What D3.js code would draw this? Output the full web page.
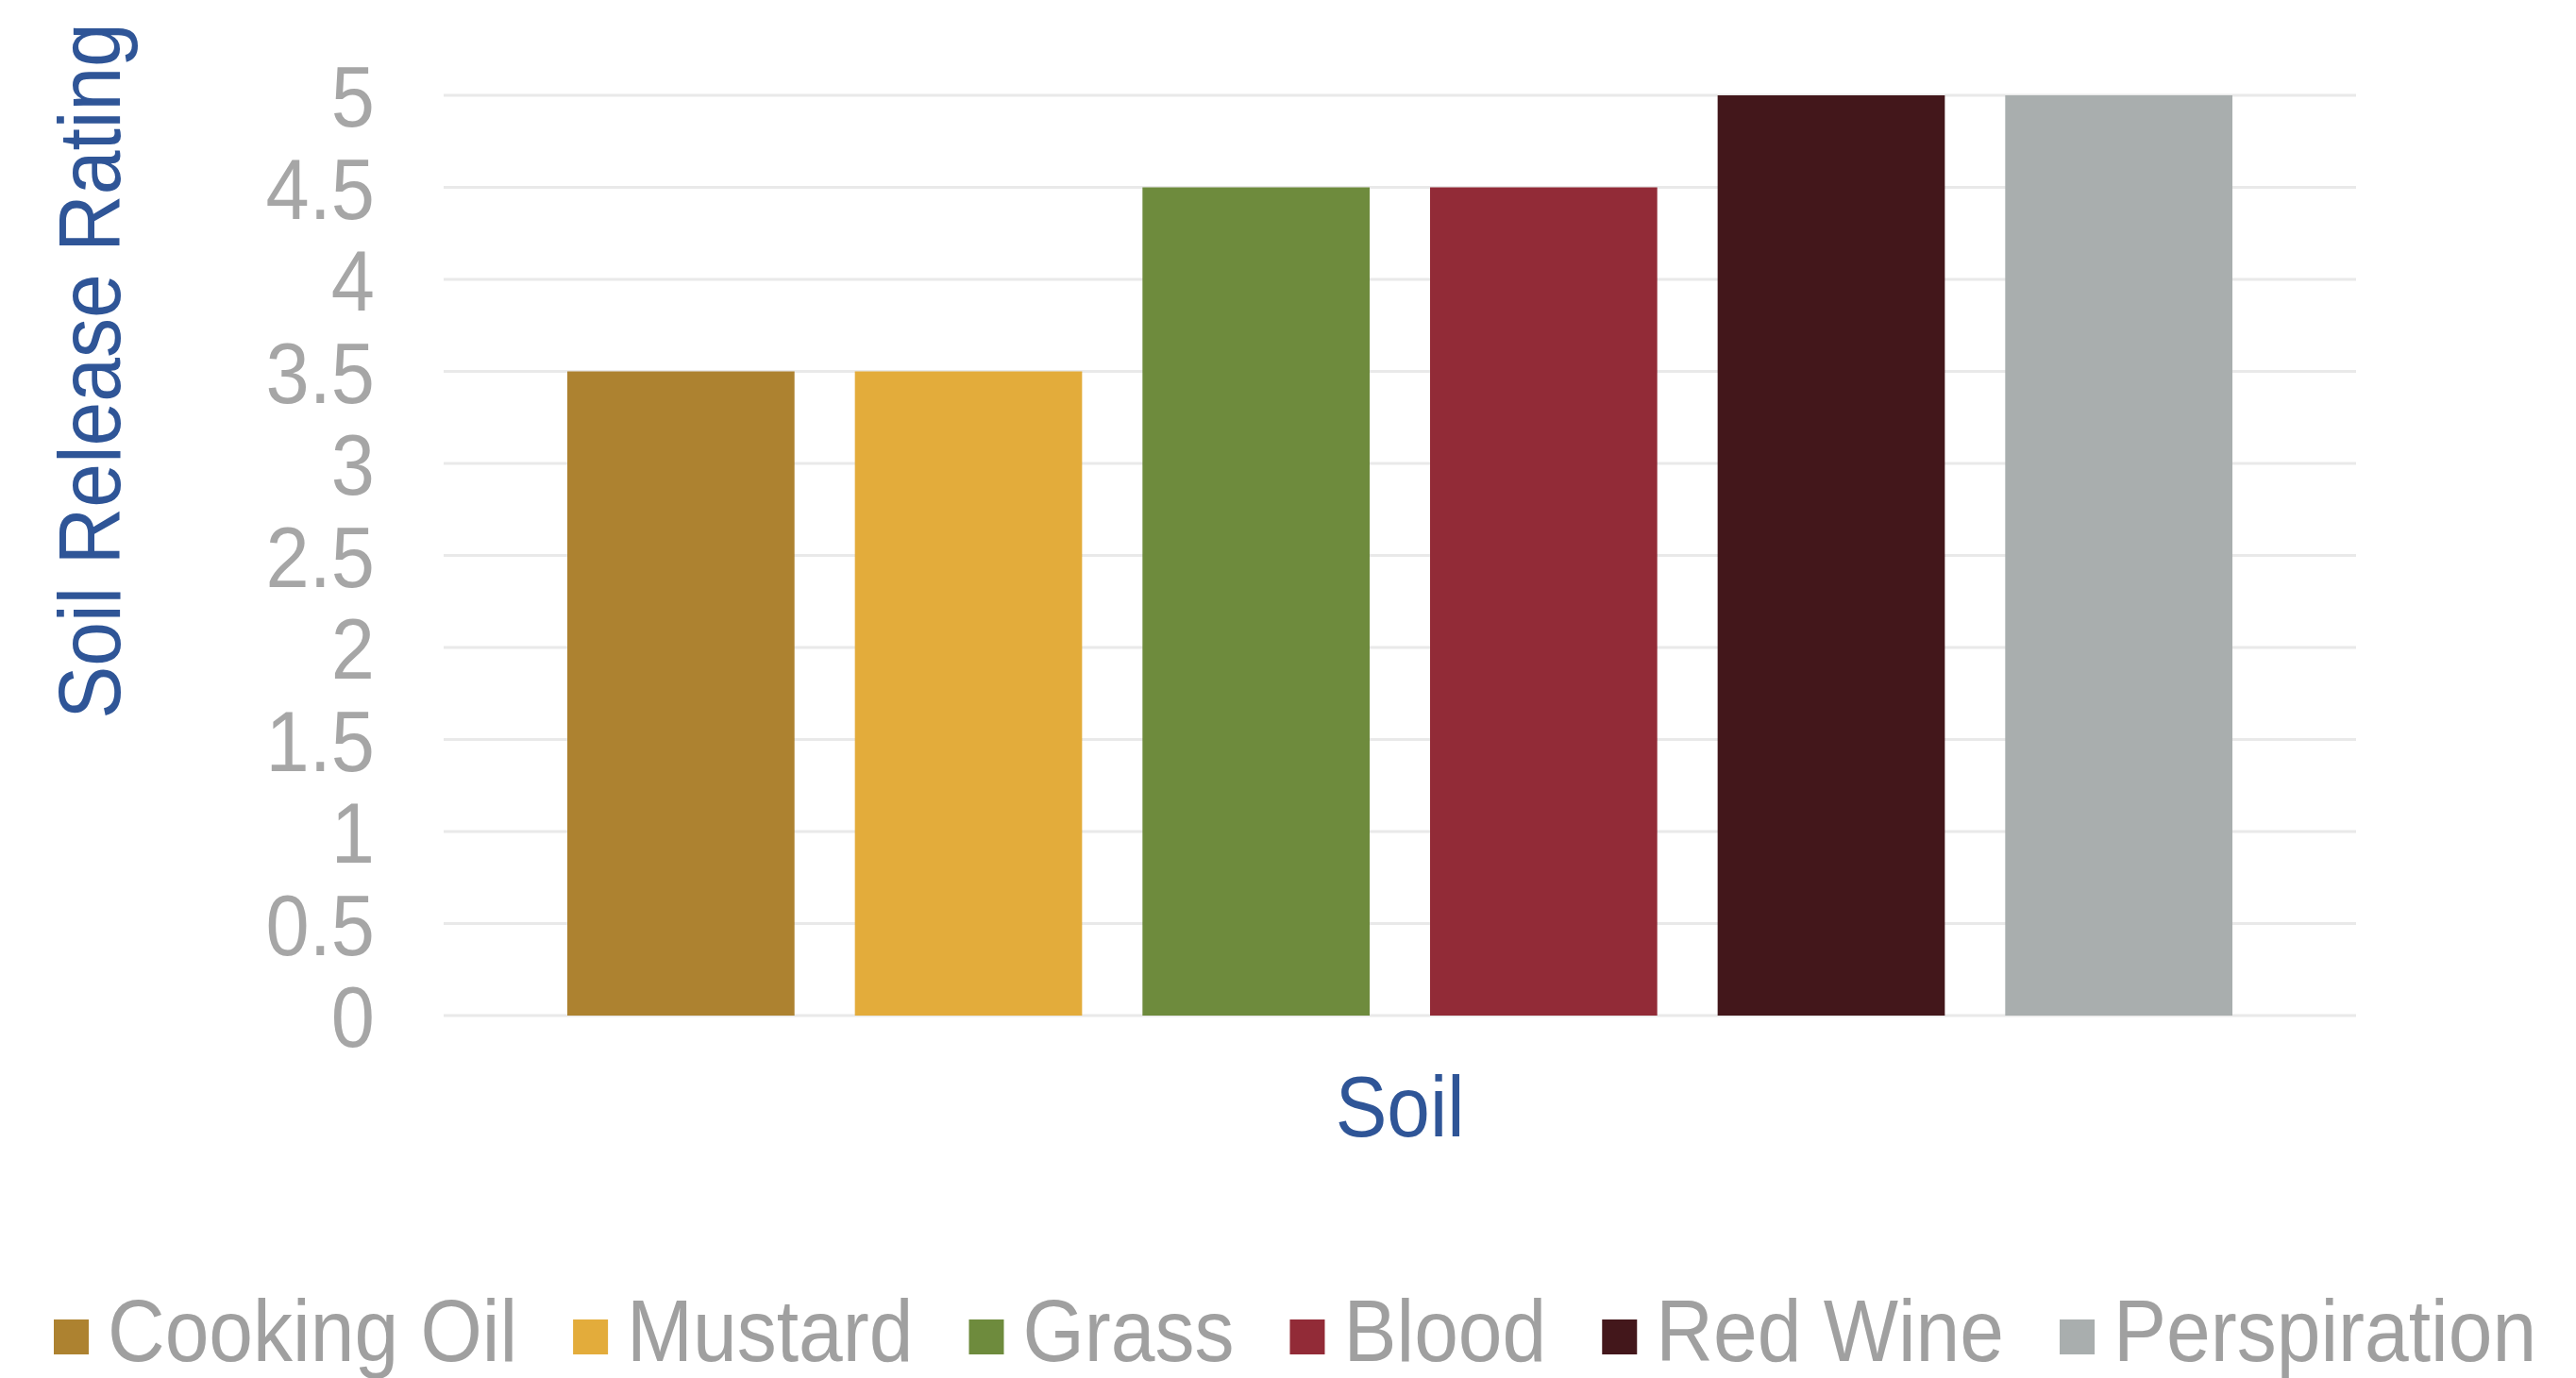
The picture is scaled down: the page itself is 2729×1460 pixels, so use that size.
<!DOCTYPE html>
<html>
<head>
<meta charset="utf-8">
<script src="https://cdn.jsdelivr.net/npm/d3@7"></script>
<style>
    body { margin: 0; background: #ffffff; }
    text { font-family: "Liberation Sans", Arial, sans-serif; }
</style>
</head>
<body>
<div id="chart"></div>
<script>
const soils = ["Cooking Oil", "Mustard", "Grass", "Blood", "Red Wine", "Perspiration"]
const ratings = [3.5, 3.5, 4.5, 4.5, 5, 5]
const colors = ["#ad8230", "#e3ac3b", "#6e8b3d", "#922b37", "#43171b", "#a9aeae"]
const yTicks = [0, 0.5, 1, 1.5, 2, 2.5, 3, 3.5, 4, 4.5, 5]

createBarChart("chart")

function createBarChart(id) {
    const width = 2729
    const height = 1460
    const plot = {left: 470, right: 2496, top: 101, bottom: 1076}
    const vScale = 1.1 // text in the picture is a little taller than it is wide

    const svg = d3.select("#" + id)
        .append("svg")
        .attr("width", width)
        .attr("height", height)

    const x = d3.scaleBand()
        .domain(soils)
        .range([plot.left, plot.right])
        .paddingInner(0.21)
        .paddingOuter(0.43)

    const y = d3.scaleLinear()
        .domain([0, 5])
        .range([plot.bottom, plot.top])

    // gridlines
    svg.append("g")
        .selectAll("line")
        .data(yTicks)
        .enter()
        .append("line")
        .attr("x1", plot.left)
        .attr("x2", plot.right)
        .attr("y1", d => y(d))
        .attr("y2", d => y(d))
        .attr("stroke", "#e9e9e9")
        .attr("stroke-width", 3)

    // y axis labels, no domain line or ticks
    const yAxis = svg.append("g")
        .attr("transform", "translate(" + (plot.left - 73) + ",0)")
        .call(d3.axisLeft(y).tickValues(yTicks).tickSize(0).tickPadding(0).tickFormat(d3.format("")))
    yAxis.select(".domain").remove()
    yAxis.selectAll("text")
        .attr("font-size", 83)
        .attr("font-family", "Liberation Sans, Arial, sans-serif")
        .attr("fill", "#a6a6a6")
        .attr("x", 0)
        .attr("y", 0)
        .attr("dy", "0.36em")
        .attr("transform", "scale(1," + vScale + ")")

    // bars
    svg.append("g")
        .selectAll("rect")
        .data(soils)
        .enter()
        .append("rect")
        .attr("x", d => x(d))
        .attr("width", x.bandwidth())
        .attr("y", (d, i) => y(ratings[i]))
        .attr("height", (d, i) => y(0) - y(ratings[i]))
        .attr("fill", (d, i) => colors[i])

    // axis titles
    svg.append("text")
        .attr("transform", "translate(94,393) rotate(-90) scale(1," + vScale + ")")
        .attr("text-anchor", "middle")
        .attr("dy", "0.36em")
        .attr("font-size", 84)
        .attr("fill", "#2f5597")
        .text("Soil Release Rating")

    svg.append("text")
        .attr("transform", "translate(" + ((plot.left + plot.right) / 2) + ",1204) scale(1," + vScale + ")")
        .attr("text-anchor", "middle")
        .attr("font-size", 82)
        .attr("fill", "#2f5597")
        .text("Soil")

    // legend laid out left to right
    const legend = svg.append("g")
    let cursor = 57
    soils.forEach(function(s, i) {
        legend.append("rect")
            .attr("x", cursor)
            .attr("y", 1398)
            .attr("width", 37)
            .attr("height", 37)
            .attr("fill", colors[i])
        const t = legend.append("text")
            .attr("transform", "translate(" + (cursor + 57) + ",1442) scale(1," + vScale + ")")
            .attr("font-size", 84)
            .attr("fill", "#a0a0a0")
            .text(s)
        cursor += 57 + t.node().getComputedTextLength() + 59
    })
}
</script>
</body>
</html>
